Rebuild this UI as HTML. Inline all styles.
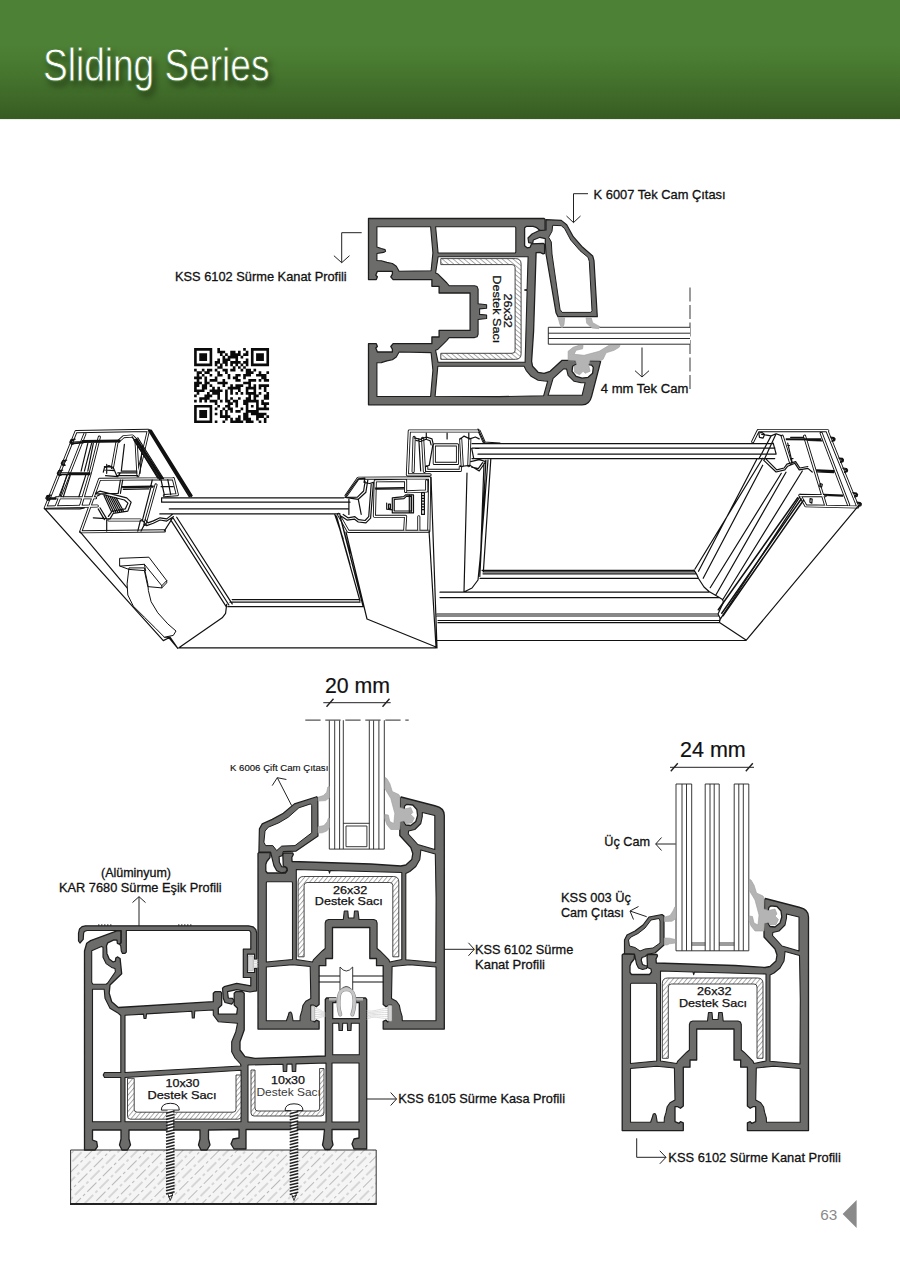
<!DOCTYPE html>
<html lang="tr"><head><meta charset="utf-8"><title>Sliding Series</title>
<style>
html,body{margin:0;padding:0;background:#fff;}
body{width:900px;height:1273px;position:relative;overflow:hidden;font-family:"Liberation Sans", sans-serif;}
.hdr{position:absolute;left:0;top:0;width:900px;height:119px;background:linear-gradient(180deg,#4d8135 0%,#4d8135 38%,#47772f 60%,#3f6a29 80%,#385c22 100%);box-shadow:0 0 1px rgba(60,80,40,.5);}
.hdr h1{position:absolute;left:43px;top:36.5px;margin:0;font-weight:400;font-size:46px;line-height:56px;color:#fff;letter-spacing:0;transform:scaleX(.805);transform-origin:0 0;white-space:nowrap;text-shadow:4px 5px 7px rgba(0,0,0,.5);-webkit-text-stroke:0.8px #4b7f34;}
svg{position:absolute;left:0;top:0;}
svg text{font-family:"Liberation Sans", sans-serif;}
</style></head><body>
<div class="hdr"><h1>Sliding Series</h1></div>
<svg width="900" height="1273" viewBox="0 0 900 1273">
<text x="593.6" y="199.3" font-size="12.9" text-anchor="start" fill="#111" stroke="#111" stroke-width="0.3" textLength="132" lengthAdjust="spacingAndGlyphs">K 6007 Tek Cam Çıtası</text>
<path d="M588 193.7H573.5V222.6M566.5 216L573.5 222.6L580.5 216" fill="none" stroke="#222" stroke-width="1"/>
<text x="175" y="280.7" font-size="12.9" text-anchor="start" fill="#111" stroke="#111" stroke-width="0.3" textLength="171.7" lengthAdjust="spacingAndGlyphs">KSS 6102 Sürme Kanat Profili</text>
<path d="M361.7 232.7H341.7V262.7M333.9 255.7L341.7 262.7L349.5 255.7" fill="none" stroke="#222" stroke-width="1"/>
<text x="600.8" y="392.5" font-size="12.9" text-anchor="start" fill="#111" stroke="#111" stroke-width="0.3" textLength="87.5" lengthAdjust="spacingAndGlyphs">4 mm Tek Cam</text>
<path d="M642 347.5V377M635 370.7L642 377L649 370.7" fill="none" stroke="#222" stroke-width="1"/>
<path d="M690 287.5V392" fill="none" stroke="#666" stroke-width="1.3" stroke-dasharray="14 3.5"/>
<text x="325" y="692.7" font-size="21.5" text-anchor="start" fill="#111" stroke="#111" stroke-width="0.2" textLength="65" lengthAdjust="spacingAndGlyphs">20 mm</text>
<path d="M323.3 702.7H390.7" fill="none" stroke="#222" stroke-width="1"/><path d="M326.5 706.7L333.5 698.7M382.5 706.7L389.5 698.7" fill="none" stroke="#222" stroke-width="1.4"/>
<text x="230" y="771" font-size="9.6" text-anchor="start" fill="#111" stroke="#111" stroke-width="0.15" textLength="98.3" lengthAdjust="spacingAndGlyphs">K 6006 Çift Cam Çıtası</text>
<path d="M291.7 805.7L277.3 777.7M272.2 785.6L277.3 777.7L286.4 779.5" fill="none" stroke="#222" stroke-width="1"/>
<text x="101" y="876.7" font-size="12.9" text-anchor="start" fill="#111" stroke="#111" stroke-width="0.3" textLength="70" lengthAdjust="spacingAndGlyphs">(Alüminyum)</text>
<text x="59" y="891.7" font-size="12.9" text-anchor="start" fill="#111" stroke="#111" stroke-width="0.3" textLength="162.7" lengthAdjust="spacingAndGlyphs">KAR 7680 Sürme Eşik Profili</text>
<path d="M139 927V896.7M132.5 902.5500000000001L139 896.7L145.5 902.5500000000001" fill="none" stroke="#222" stroke-width="1"/>
<text x="475" y="954.3" font-size="12.9" text-anchor="start" fill="#111" stroke="#111" stroke-width="0.3" textLength="98.3" lengthAdjust="spacingAndGlyphs">KSS 6102 Sürme</text>
<text x="475" y="969" font-size="12.9" text-anchor="start" fill="#111" stroke="#111" stroke-width="0.3" textLength="70" lengthAdjust="spacingAndGlyphs">Kanat Profili</text>
<path d="M444.3 949.3H474.3M468.45 942.8L474.3 949.3L468.45 955.8" fill="none" stroke="#222" stroke-width="1"/>
<text x="398.3" y="1103.3" font-size="12.9" text-anchor="start" fill="#111" stroke="#111" stroke-width="0.3" textLength="166.7" lengthAdjust="spacingAndGlyphs">KSS 6105 Sürme Kasa Profili</text>
<path d="M367 1099H396.5M390.65 1092.5L396.5 1099L390.65 1105.5" fill="none" stroke="#222" stroke-width="1"/>
<text x="680" y="757.3" font-size="21.5" text-anchor="start" fill="#111" stroke="#111" stroke-width="0.2" textLength="65.7" lengthAdjust="spacingAndGlyphs">24 mm</text>
<path d="M670 767.3H754" fill="none" stroke="#222" stroke-width="1"/><path d="M670.8 771.3L677.8 763.3M745.8 771.3L752.8 763.3" fill="none" stroke="#222" stroke-width="1.4"/>
<text x="604.3" y="846" font-size="12.9" text-anchor="start" fill="#111" stroke="#111" stroke-width="0.3" textLength="45.7" lengthAdjust="spacingAndGlyphs">Üç Cam</text>
<path d="M675.7 844H655.7M661.5500000000001 837.5L655.7 844L661.5500000000001 850.5" fill="none" stroke="#222" stroke-width="1"/>
<text x="561" y="901.7" font-size="12.9" text-anchor="start" fill="#111" stroke="#111" stroke-width="0.3" textLength="70" lengthAdjust="spacingAndGlyphs">KSS 003 Üç</text>
<text x="561" y="917.3" font-size="12.9" text-anchor="start" fill="#111" stroke="#111" stroke-width="0.3" textLength="63" lengthAdjust="spacingAndGlyphs">Cam Çıtası</text>
<path d="M646.7 916.7L630 911M633.5 919.5L630 911L638.5 906.5" fill="none" stroke="#222" stroke-width="1"/>
<text x="668.3" y="1162.3" font-size="12.9" text-anchor="start" fill="#111" stroke="#111" stroke-width="0.3" textLength="172.5" lengthAdjust="spacingAndGlyphs">KSS 6102 Sürme Kanat Profili</text>
<path d="M636.7 1138.3V1157.3H666M659.8 1150.8L666 1157.3L659.8 1163.8" fill="none" stroke="#222" stroke-width="1"/>
<text x="820.3" y="1219.5" font-size="15.3" text-anchor="start" fill="#8a8a8a">63</text>
<path d="M842.6 1214L856.6 1200V1228Z" fill="#8a8a8a"/>
<pattern id="bhatch" width="22" height="12.8" patternUnits="userSpaceOnUse" patternTransform="rotate(-45)"><path d="M0 2H13M16 2H19M11 8.4H22M0 8.4H2M5 8.4H8" stroke="#a8a8a8" stroke-width="0.8" fill="none"/></pattern><rect x="70.6" y="1150" width="305.6" height="54" fill="#f5f5f5"/><rect x="70.6" y="1150" width="305.6" height="54" fill="url(#bhatch)"/><path d="M70.6 1204V1150H376.2V1204" fill="none" stroke="#333" stroke-width="1"/><path d="M70 1204H376.8" stroke="#222" stroke-width="2"/>
<path d="M84.5 951.0 L86.7 943.3 L90.6 940.6 L117.0 930.9 L120.9 930.9 L120.9 942.6 L119.3 944.1 L117.4 943.3 L117.0 940.2 L113.9 939.8 L107.7 942.9 L106.5 945.7 L106.9 953.4 L109.2 958.9 L113.1 962.0 L115.4 961.2 L115.8 958.1 L117.4 956.9 L120.1 958.5 L121.7 973.7 L110.0 985.0 L109.2 993.3 L111.7 1001.7 L118.3 1007.5 L213.3 1001.7 L213.3 993.3 L215.0 991.7 L220.8 991.7 L221.7 993.3 L221.7 1005.0 L218.3 1008.3 L218.3 1014.2 L236.7 1014.2 L237.5 1008.3 L234.2 1005.0 L234.2 993.3 L235.8 991.7 L242.5 991.7 L244.2 993.3 L244.2 1030.0 L240.0 1041.7 L240.0 1050.0 L245.0 1056.7 L255.0 1058.3 L325.3 1056.0 L325.3 999.5 L326.5 998.0 L336.0 998.0 L336.0 1002.7 L332.7 1002.7 L332.7 1018.7 L359.3 1018.7 L359.3 1002.7 L356.0 1002.7 L356.0 998.0 L365.5 998.0 L366.7 999.5 L366.7 1149.0 L354.0 1149.0 L352.0 1144.0 L354.0 1139.0 L359.0 1138.0 L359.0 1129.5 L332.0 1129.5 L332.0 1140.0 L333.0 1145.0 L330.0 1149.5 L325.0 1149.5 L322.5 1145.0 L323.5 1140.0 L324.5 1129.5 L246.0 1129.5 L246.0 1149.0 L234.0 1149.0 L231.0 1144.0 L233.0 1139.0 L239.0 1138.0 L239.0 1129.5 L208.5 1130.0 L208.5 1139.0 L210.0 1145.0 L207.0 1150.0 L201.0 1150.0 L198.5 1145.0 L200.0 1139.0 L200.0 1130.0 L129.0 1130.0 L129.0 1139.0 L130.5 1145.0 L127.5 1150.0 L122.0 1150.0 L119.5 1145.0 L121.0 1139.0 L121.0 1130.0 L92.5 1130.0 L92.5 1140.0 L96.7 1141.7 L97.5 1146.7 L95.0 1150.0 L84.5 1150.0Z" fill="#6c6c6a" stroke="#1e1e1e" stroke-width="1.3" stroke-linejoin="round"/>
<path d="M91.7 950.7 L101.4 946.4 L103.0 947.2 L103.0 957.3 L106.1 963.6 L111.6 967.4 L115.0 968.6 L115.4 971.7 L107.7 983.0 L106.1 984.2 L92.9 984.2 L91.7 982.2Z M92.5 989.2 L104.2 989.2 L105.0 998.3 L110.0 1008.3 L118.3 1013.3 L120.8 1015.5 L120.8 1072.5 L104.5 1072.5 L103.2 1075.0 L104.5 1077.5 L120.8 1077.5 L120.8 1121.7 L92.5 1121.7Z M125.0 1015.2 L143.5 1014.1 L144.0 1018.5 L146.0 1018.5 L146.5 1013.9 L191.8 1011.2 L192.3 1018.0 L194.3 1018.0 L194.8 1011.0 L213.3 1010.0 L213.3 1015.0 L218.3 1021.7 L237.5 1023.3 L235.8 1031.7 L231.7 1041.7 L231.7 1051.7 L235.0 1058.0 L240.5 1064.0 L241.0 1066.0 L125.0 1072.5Z M125.0 1077.5 L241.0 1070.2 L241.0 1121.7 L125.0 1121.7Z M248.0 1065.0 L283.0 1064.2 L283.3 1071.5 L286.7 1071.5 L287.0 1064.1 L292.0 1064.0 L292.3 1071.5 L295.7 1071.5 L296.0 1063.9 L326.0 1063.0 L326.0 1122.0 L248.0 1122.0Z M332.7 1023.3 L338.7 1023.3 L339.0 1030.5 L342.4 1030.5 L342.7 1023.3 L347.3 1023.3 L347.6 1030.5 L351.0 1030.5 L351.3 1023.3 L359.3 1023.3 L359.3 1054.7 L332.7 1054.7Z M332.0 1063.0 L359.0 1063.0 L359.0 1122.0 L332.0 1122.0Z" fill="#fff" stroke="#1e1e1e" stroke-width="1.1" stroke-linejoin="round"/>
<path d="M127.5 1078.3 H134.2 V1109.2 Q134.2 1112.2 137.2 1112.2 H233 Q236 1112.2 236 1109.2 V1075 H241 V1116.2 Q241 1119.2 238 1119.2 H130.5 Q127.5 1119.2 127.5 1116.2Z" fill="url(#hatch)" stroke="#333" stroke-width="0.9"/>
<path d="M251 1070 H255 V1108 Q255 1111 258 1111 H316.6 Q319.6 1111 319.6 1108 V1068.5 H324 V1113 Q324 1116 321 1116 H254 Q251 1116 251 1113Z" fill="url(#hatch)" stroke="#333" stroke-width="0.9"/>
<text x="182.5" y="1086.7" font-size="10.3" text-anchor="middle" fill="#111" stroke="#111" stroke-width="0.25" textLength="34" lengthAdjust="spacingAndGlyphs">10x30</text>
<text x="182" y="1099.2" font-size="10.3" text-anchor="middle" fill="#111" stroke="#111" stroke-width="0.25" textLength="69" lengthAdjust="spacingAndGlyphs">Destek Sacı</text>
<text x="288" y="1084.4" font-size="10.3" text-anchor="middle" fill="#111" stroke="#111" stroke-width="0.25" textLength="34" lengthAdjust="spacingAndGlyphs">10x30</text>
<g clip-path="url(#clipd)"><text x="256.4" y="1096" font-size="10.3" text-anchor="start" fill="#3a3a3a" textLength="64.5" lengthAdjust="spacingAndGlyphs">Destek Sacı</text></g>
<clipPath id="clipd"><rect x="250" y="1080" width="70" height="20"/></clipPath>
<path d="M161.3 1110.1 Q161.3 1103.3 170.3 1103.3 Q179.3 1103.3 179.3 1110.1Z" fill="#fff" stroke="#1e1e1e" stroke-width="1"/><rect x="167.60000000000002" y="1110.1" width="5.4" height="84.40000000000009" fill="#fff"/><path d="M166.0 1113.3L174.60000000000002 1111.1M166.0 1116.4L174.60000000000002 1114.2M166.0 1119.5L174.60000000000002 1117.3M166.0 1122.6L174.60000000000002 1120.4M166.0 1125.7L174.60000000000002 1123.5M166.0 1128.8L174.60000000000002 1126.6M166.0 1131.9L174.60000000000002 1129.7M166.0 1135.0L174.60000000000002 1132.8M166.0 1138.1L174.60000000000002 1135.9M166.0 1141.2L174.60000000000002 1139.0M166.0 1144.3L174.60000000000002 1142.1M166.0 1147.4L174.60000000000002 1145.2M166.0 1150.5L174.60000000000002 1148.3M166.0 1153.6L174.60000000000002 1151.4M166.0 1156.7L174.60000000000002 1154.5M166.0 1159.8L174.60000000000002 1157.6M166.0 1162.9L174.60000000000002 1160.7M166.0 1166.0L174.60000000000002 1163.8M166.0 1169.1L174.60000000000002 1166.9M166.0 1172.2L174.60000000000002 1170.0M166.0 1175.3L174.60000000000002 1173.1M166.0 1178.4L174.60000000000002 1176.2M166.0 1181.5L174.60000000000002 1179.3M166.0 1184.6L174.60000000000002 1182.4M166.0 1187.7L174.60000000000002 1185.5M166.0 1190.8L174.60000000000002 1188.6M166.0 1193.9L174.60000000000002 1191.7" stroke="#222" stroke-width="1.5" fill="none"/><path d="M167.8 1193.5L170.3 1200.5L172.8 1193.5Z" fill="#fff" stroke="#222" stroke-width="0.9"/><path d="M168.10000000000002 1197.0L172.9 1195.3" stroke="#222" stroke-width="1.2"/>
<path d="M285 1110.6 Q285 1103.8 294 1103.8 Q303 1103.8 303 1110.6Z" fill="#fff" stroke="#1e1e1e" stroke-width="1"/><rect x="291.3" y="1110.6" width="5.4" height="83.90000000000009" fill="#fff"/><path d="M289.7 1113.8L298.3 1111.6M289.7 1116.9L298.3 1114.7M289.7 1120.0L298.3 1117.8M289.7 1123.1L298.3 1120.9M289.7 1126.2L298.3 1124.0M289.7 1129.3L298.3 1127.1M289.7 1132.4L298.3 1130.2M289.7 1135.5L298.3 1133.3M289.7 1138.6L298.3 1136.4M289.7 1141.7L298.3 1139.5M289.7 1144.8L298.3 1142.6M289.7 1147.9L298.3 1145.7M289.7 1151.0L298.3 1148.8M289.7 1154.1L298.3 1151.9M289.7 1157.2L298.3 1155.0M289.7 1160.3L298.3 1158.1M289.7 1163.4L298.3 1161.2M289.7 1166.5L298.3 1164.3M289.7 1169.6L298.3 1167.4M289.7 1172.7L298.3 1170.5M289.7 1175.8L298.3 1173.6M289.7 1178.9L298.3 1176.7M289.7 1182.0L298.3 1179.8M289.7 1185.1L298.3 1182.9M289.7 1188.2L298.3 1186.0M289.7 1191.3L298.3 1189.1M289.7 1194.4L298.3 1192.2" stroke="#222" stroke-width="1.5" fill="none"/><path d="M291.5 1193.5L294 1200.5L296.5 1193.5Z" fill="#fff" stroke="#222" stroke-width="0.9"/><path d="M291.8 1197.0L296.6 1195.3" stroke="#222" stroke-width="1.2"/>
<path d="M78.5 941.0 L78.5 933.2 L79.5 929.0 L82.0 926.6 L85.5 925.8 L248.5 925.8 L253.0 926.8 L255.8 929.5 L256.7 933.0 L256.7 959.2 L254.5 959.2 L254.5 954.2 L247.5 954.2 L247.5 972.5 L254.5 972.5 L254.5 968.3 L256.7 968.3 L256.7 990.8 L250.0 992.0 L236.7 989.7 L227.5 991.7 L228.3 998.0 L232.5 998.3 L234.2 1000.8 L231.7 1004.2 L225.0 1002.5 L223.3 998.3 L222.5 988.3 L224.2 986.7 L236.7 983.3 L250.8 985.8 L250.8 977.5 L243.3 977.5 L243.3 949.2 L250.8 949.2 L250.8 932.5 L249.5 930.5 L126.3 930.5 L126.3 952.0 L125.0 953.4 L122.5 953.4 L121.3 951.0 L120.8 946.0 L119.6 944.2 L121.3 942.8 L121.3 930.5 L87.0 930.5 L84.3 931.5 L83.6 933.2 L83.2 939.4 L80.0 943.0Z" fill="#6c6c6a" stroke="#1e1e1e" stroke-width="1.2" stroke-linejoin="round"/>
<path d="M98 925H112M178 925H192" stroke="#111" stroke-width="1" stroke-dasharray="1.5 1.5"/>
<defs><pattern id="hatch" width="3.5" height="3.5" patternUnits="userSpaceOnUse" patternTransform="rotate(-50)"><rect width="3.5" height="3.5" fill="#fff"/><line x1="0" y1="0.5" x2="3.5" y2="0.5" stroke="#8e8e8e" stroke-width="0.75"/></pattern><g id="kss6102"><path d="M622.2 955.0 L623.2 954.0 L634.5 954.0 L634.2 959.0 L631.0 963.0 L630.0 966.0 L630.0 972.5 L631.5 974.5 L649.5 974.5 L651.5 972.0 L651.0 969.0 L647.5 967.5 L647.0 956.0 L648.0 954.5 L657.0 954.5 L657.5 956.0 L656.0 959.0 L656.3 963.0 L735.0 965.5 L765.0 967.5 L770.0 966.5 L776.0 961.0 L777.0 955.0 L775.0 949.0 L764.0 937.0 L764.0 925.0 L765.0 923.0 L768.0 922.5 L768.5 924.0 L770.0 926.5 L775.0 927.0 L780.0 923.0 L781.8 917.0 L781.0 911.0 L777.0 906.5 L771.0 905.8 L768.8 907.5 L768.5 910.0 L767.5 911.5 L765.0 911.2 L764.5 909.5 L764.5 900.0 L765.3 898.5 L800 907.5 Q808.5 909.5 808.5 917 L808.5 1130.6 L747.4 1130.6 L747.4 1122.8 L750.2 1121.7 L751.7 1123.3 L755.7 1121.7 L755.7 1106.7 L752.9 1106.7 L750.2 1108.3 L747.4 1106.0 L747.4 1067.2 L740.7 1067.2 L740.7 1060.0 L734.0 1060.0 L734.0 1029.0 L696.7 1029.0 L696.7 1060.0 L690.0 1060.0 L690.0 1067.2 L683.3 1067.2 L683.3 1106.0 L680.5 1108.3 L677.8 1106.7 L675.0 1106.7 L675.0 1121.7 L679.0 1123.3 L680.5 1121.7 L683.3 1122.8 L683.3 1130.6 L622.2 1130.6Z" fill="#6c6c6a" stroke="#1e1e1e" stroke-width="1.3" stroke-linejoin="round"/><path d="M631.5 983.3 L655.7 983.3 Q656.7 983.3 656.7 984.3 L656.7 1061 L630.5 1063.5 L630.5 984.3 Q630.5 983.3 631.5 983.3Z M630.5 1068.5 L656.7 1066.2 L674.4 1068.0 L675.0 1100.0 L670.0 1102.8 L667.2 1106.7 L666.1 1112.2 L664.4 1117.8 L664.2 1122.2 L657.2 1122.2 L656.1 1115.5 L655.0 1113.5 L653.3 1114.0 L652.2 1117.8 L650.6 1122.2 L630.5 1122.2Z M800.2 1068.5 L774.0 1066.2 L756.3 1068.0 L755.7 1100.0 L760.7 1102.8 L763.5 1106.7 L764.6 1112.2 L766.3 1117.8 L766.5 1122.2 L800.2 1122.2Z M660.5 971.0 L693.0 972.0 L693.7 974.6 L694.5 972.0 L766.0 974.0 L766.0 1061.0 L754.0 1063.5 L752.9 1061.1 L748.5 1056.7 L744.0 1052.2 L741.3 1050.0 L741.3 1024.5 L740.4 1022.0 L737.9 1021.0 L723.2 1021.0 L722.2 1012.5 L718.7 1012.5 L718.1 1019.5 L712.6 1019.5 L712.0 1012.5 L708.5 1012.5 L707.5 1021.0 L692.8 1021.0 L690.3 1022.0 L689.4 1024.5 L689.4 1050.0 L686.7 1052.2 L682.2 1056.7 L677.8 1061.1 L676.7 1063.5 L660.5 1061.0Z M785.0 951.5 L799.5 955.5 L800.3 1000.0 L800.0 1064.0 L770.0 1061.3 L770.0 975.0 L774.0 973.0 L780.0 968.0 L784.0 961.0 L784.7 955.0Z M786.5 914.0 L799.0 917.0 L799.0 951.0 L782.0 946.0 L772.5 935.5 L772.8 932.5 L779.0 931.0 L785.0 925.0 L786.5 918.0Z" fill="#fff" stroke="#1e1e1e" stroke-width="1.1" stroke-linejoin="round"/><path d="M662.3 1058.3 V983.5 Q662.3 978 667.8 978 H757.5 Q763 978 763 983.5 V1058.3 H757 V987 Q757 984 754 984 H671.3 Q668.3 984 668.3 987 V1058.3Z" fill="url(#hatch)" stroke="#333" stroke-width="0.9" stroke-linejoin="round"/></g></defs>
<g><use href="#kss6102"/><text x="714.3" y="995" font-size="10.3" text-anchor="middle" fill="#111" stroke="#111" stroke-width="0.25" textLength="34.4" lengthAdjust="spacingAndGlyphs">26x32</text><text x="713" y="1006.5" font-size="10.3" text-anchor="middle" fill="#111" stroke="#111" stroke-width="0.25" textLength="68" lengthAdjust="spacingAndGlyphs">Destek Sacı</text></g>
<g transform="translate(-364.2,-101.5)"><use href="#kss6102"/><text x="714.3" y="995" font-size="10.3" text-anchor="middle" fill="#111" stroke="#111" stroke-width="0.25" textLength="34.4" lengthAdjust="spacingAndGlyphs">26x32</text><text x="713" y="1006.5" font-size="10.3" text-anchor="middle" fill="#111" stroke="#111" stroke-width="0.25" textLength="68" lengthAdjust="spacingAndGlyphs">Destek Sacı</text></g>
<g transform="translate(1499.1,-403.7) rotate(90)"><use href="#kss6102"/><text x="714.3" y="995" font-size="10.3" text-anchor="middle" fill="#111" stroke="#111" stroke-width="0.25" textLength="34.4" lengthAdjust="spacingAndGlyphs">26x32</text><text x="713" y="1006.5" font-size="10.3" text-anchor="middle" fill="#111" stroke="#111" stroke-width="0.25" textLength="68" lengthAdjust="spacingAndGlyphs">Destek Sacı</text></g>
<rect x="676" y="784" width="72.8" height="166.8" fill="#fff"/><path d="M676 784V950.8M682 784V950.8M686.5 784V950.8M691.7 784V950.8M676 784H691.7M705.2 784V950.8M710 784V950.8M714.2 784V950.8M719.2 784V950.8M705.2 784H719.2M734.2 784V950.8M738.8 784V950.8M743.3 784V950.8M748.8 784V950.8M734.2 784H748.8M676 950.8H748.8M691.7 943H705.2M691.7 945H705.2M719.2 943H734.2M719.2 945H734.2" fill="none" stroke="#222" stroke-width="0.9"/><path d="M624.5 953.5 L624.5 940.0 L627.0 935.0 L635.0 931.0 L643.0 925.0 L649.0 917.0 L662.0 914.5 L664.0 916.0 L664.0 945.0 L655.0 953.0 L648.0 954.0 L645.0 956.5 L642.0 957.5 L641.2 960.0 L642.5 964.5 L645.0 965.5 L647.5 966.0 L646.5 968.5 L642.5 969.5 L638.5 968.0 L636.5 964.0 L634.5 954.0Z" fill="#6c6c6a" stroke="#1e1e1e" stroke-width="1.2" stroke-linejoin="round"/><path d="M629.5 946.0 L628.5 940.0 L631.0 937.0 L638.0 933.5 L645.0 928.0 L651.0 920.0 L659.0 918.5 L660.0 921.0 L660.0 943.0 L653.0 948.0 L645.0 949.0 L640.0 951.0 L635.0 947.5Z" fill="#fff" stroke="#1e1e1e" stroke-width="1" stroke-linejoin="round"/><path d="M664.2 917.2 L670.0 915.5 L673.0 911.0 L674.8 907.0 L676.0 907.5 L676.0 918.5 L672.0 921.2 L664.2 921.5Z M664.2 938.0 L669.5 938.2 L675.5 939.5 L675.5 943.0 L669.5 943.8 L667.0 945.0 L664.2 944.8Z" fill="#b4b4b4" stroke="#9c9c9c" stroke-width="0.6" stroke-linejoin="round"/><path d="M749.2 879.0 L751.0 880.0 L754.0 885.0 L756.5 893.0 L763.0 896.0 L764.2 898.0 L764.0 909.0 L768.5 910.5 L775.0 909.0 L777.0 914.0 L775.0 916.0 L778.5 919.5 L776.0 924.5 L770.0 925.0 L768.5 922.5 L764.5 923.5 L764.0 931.0 L755.0 931.0 L751.0 926.0 L749.0 920.0 L749.0 916.0 L752.5 916.5 L754.0 923.0 L758.0 925.0 L759.0 915.0 L755.0 900.0 L749.0 890.0Z" fill="#b4b4b4" stroke="#9c9c9c" stroke-width="0.6" stroke-linejoin="round"/>
<rect x="329.3" y="720.2" width="55" height="128.89999999999998" fill="#fff"/><path d="M329.3 720.2V849.1M334.7 720.2V849.1M339.6 720.2V849.1M343.3 720.2V849.1M369.3 720.2V849.1M373.6 720.2V849.1M378.9 720.2V849.1M384.3 720.2V849.1M329.3 849.1H384.3M343.3 823.3H369.3M346 826H366.9V846.7H346Z" fill="none" stroke="#222" stroke-width="0.9"/><path d="M305.3 720.2H408.7" fill="none" stroke="#555" stroke-width="1.2" stroke-dasharray="15.3 4.7"/><path d="M258.9 851.9 L259.4 828.9 L262.2 823.9 L272.2 819.4 L283.3 813.3 L294.4 803.9 L316.7 796.7 L317.8 798.3 L318.0 836.1 L296.1 851.1 L283.3 851.7 L282.2 855.6 L279.1 856.7 L279.4 862.2 L281.7 866.7 L285.6 867.2 L287.2 869.4 L285.6 872.2 L281.1 872.8 L276.7 870.6 L273.9 865.6 L270.6 852.2Z" fill="#6c6c6a" stroke="#1e1e1e" stroke-width="1.2" stroke-linejoin="round"/><path d="M265.6 845.6 L263.9 842.2 L265.0 831.1 L268.3 827.2 L278.9 822.8 L288.3 817.2 L298.9 807.8 L310.6 803.9 L311.7 805.6 L311.7 832.8 L295.0 845.6 L281.7 846.1 L276.7 850.6 L272.8 845.6Z" fill="#fff" stroke="#1e1e1e" stroke-width="1" stroke-linejoin="round"/><path d="M318.0 797.2 L323.3 795.6 L326.7 792.2 L327.8 787.0 L329.4 786.5 L329.4 797.8 L325.6 800.6 L318.0 801.1Z M318.0 826.7 L323.9 825.6 L327.2 821.7 L328.3 818.3 L329.4 818.3 L329.4 827.8 L326.7 831.1 L322.2 832.8 L318.0 833.1Z" fill="#b4b4b4" stroke="#9c9c9c" stroke-width="0.6" stroke-linejoin="round"/><g transform="translate(-364.2,-101.5)"><path d="M749.2 879.0 L751.0 880.0 L754.0 885.0 L756.5 893.0 L763.0 896.0 L764.2 898.0 L764.0 909.0 L768.5 910.5 L775.0 909.0 L777.0 914.0 L775.0 916.0 L778.5 919.5 L776.0 924.5 L770.0 925.0 L768.5 922.5 L764.5 923.5 L764.0 931.0 L755.0 931.0 L751.0 926.0 L749.0 920.0 L749.0 916.0 L752.5 916.5 L754.0 923.0 L758.0 925.0 L759.0 915.0 L755.0 900.0 L749.0 890.0Z" fill="#b4b4b4" stroke="#9c9c9c" stroke-width="0.6" stroke-linejoin="round"/></g><path d="M253.3 960H258.3M253.3 961.7H258.3M253.3 963.4H258.3M253.3 965.1H258.3M253.3 966.8H258.3" stroke="#c8c8c8" stroke-width="0.7"/><rect x="248.3" y="955.8" width="5" height="15" rx="1" fill="#d4d4d4" stroke="#999" stroke-width="0.6"/><path d="M314.7 1008.5C320 1008.5 321 1011.5 325.3 1012.5M388 1008.5C378 1008.5 374 1012.5 366.7 1010.5M314.7 1010.5C320 1010.5 321 1012.5 325.3 1013.3M388 1010.5C378 1010.5 374 1013.0 366.7 1012.3M314.7 1012.5C320 1012.5 321 1013.5 325.3 1014.1M388 1012.5C378 1012.5 374 1013.5 366.7 1014.1M314.7 1014.5C320 1014.5 321 1014.5 325.3 1014.9M388 1014.5C378 1014.5 374 1014.0 366.7 1015.9M314.7 1016.5C320 1016.5 321 1015.5 325.3 1015.7M388 1016.5C378 1016.5 374 1014.5 366.7 1017.7M314.7 1018.5C320 1018.5 321 1016.5 325.3 1016.5M388 1018.5C378 1018.5 374 1015.0 366.7 1019.5" stroke="#cfcfcf" stroke-width="0.7" fill="none"/><rect x="311.3" y="1006" width="3.4" height="14.7" rx="1" fill="#d4d4d4" stroke="#999" stroke-width="0.6"/><rect x="388" y="1005.3" width="4" height="16" rx="1" fill="#d4d4d4" stroke="#999" stroke-width="0.6"/><path d="M318.9 976H383.2M318.9 982H383.2" stroke="#111" stroke-width="1.1" fill="none"/><path d="M340 967 Q346.3 975 352.7 967 V990.5 Q346.3 982.5 340 990.5Z" fill="#fff" stroke="#222" stroke-width="0.9"/><path d="M329 999.3H339M353.5 999.3H363" stroke="#b5b5b5" stroke-width="2.4" fill="none"/><path d="M340.3 1014.5 C338 1008 338.5 1000 339 996 C340 987 352.5 987 354 996 C354.8 1001 354.5 1008 352.3 1014.5" stroke="#8f8f8f" stroke-width="4" fill="none" stroke-linecap="round"/><path d="M340.3 1014.5 C338 1008 338.5 1000 339 996 C340 987 352.5 987 354 996 C354.8 1001 354.5 1008 352.3 1014.5" stroke="#c6c6c6" stroke-width="2.8" fill="none" stroke-linecap="round"/>
<rect x="548.3" y="327.3" width="141.7" height="17" fill="#fff"/><path d="M690 327.3H548.3V344.2H690M548.3 333.2H690M548.3 338.5H690" fill="none" stroke="#222" stroke-width="0.95"/><path d="M546.0 219.6 L561.3 220.4 L566.7 224.7 L573.3 236.7 L582.7 247.3 L592.7 256.0 L594.0 260.7 L597.3 316.7 L558.0 316.7 L556.0 312.7 L546.0 254.0 L545.3 243.3 L545.3 238.7 L540.0 237.3 L533.3 240.0 L532.7 243.3 L528.7 242.7 L528.0 238.0 L532.0 234.0 L538.7 230.7 L546.0 230.0Z" fill="#6c6c6a" stroke="#1e1e1e" stroke-width="1.2" stroke-linejoin="round"/><path d="M552.7 225.3 L561.3 225.7 L564.7 228.7 L570.7 240.0 L580.0 250.7 L588.0 257.3 L589.3 261.3 L592.0 310.7 L590.7 312.4 L562.0 312.4 L560.0 309.3 L552.0 254.0 L551.3 242.0 L548.7 237.3 L552.0 231.3Z" fill="#fff" stroke="#1e1e1e" stroke-width="1" stroke-linejoin="round"/><path d="M558.0 317.3 L564.7 317.7 L564.0 324.7 L562.0 328.0 L560.0 324.7Z M586.0 317.7 L591.3 318.0 L592.7 322.7 L600.0 326.7 L598.7 328.7 L592.0 328.0 L586.7 323.3Z" fill="#b4b4b4" stroke="#9c9c9c" stroke-width="0.6" stroke-linejoin="round"/><g transform="translate(1499.1,-403.7) rotate(90)"><path d="M749.2 879.0 L751.0 880.0 L754.0 885.0 L756.5 893.0 L763.0 896.0 L764.2 898.0 L764.0 909.0 L768.5 910.5 L775.0 909.0 L777.0 914.0 L775.0 916.0 L778.5 919.5 L776.0 924.5 L770.0 925.0 L768.5 922.5 L764.5 923.5 L764.0 931.0 L755.0 931.0 L751.0 926.0 L749.0 920.0 L749.0 916.0 L752.5 916.5 L754.0 923.0 L758.0 925.0 L759.0 915.0 L755.0 900.0 L749.0 890.0Z" fill="#b4b4b4" stroke="#9c9c9c" stroke-width="0.6" stroke-linejoin="round"/></g>
<g fill="none" stroke="#111" stroke-linecap="round" stroke-linejoin="round"><path d="M45.3 508.0L76.0 431.6L148.4 430.4L137.8 475.6M84.9 433.8L56.0 506.7M45.8 507.1L97.3 506.0M56.0 497.8L95.6 497.8M99.3 437.1L90.2 473.3L80.4 506.7M112.4 467.8L116.9 442.7L123.6 436.7L132.4 436.0L136.0 439.6L138.0 475.6M99.6 479.3L173.3 478.7M99.6 479.3L80.7 531.8M80.7 531.8L164.4 530.9M156.0 484.9L144.9 524.4M173.3 478.7L177.3 494.7L164.4 495.6M108.9 520.0L140.4 520.0M346.1 495.6L358.3 478.2L429.7 477.8L428.8 531.1L348.3 531.4L338.5 514.4M375.3 480.8L374.4 516.3L405.6 516.3L404.8 529.9M375.3 480.8L405.6 480.4L405.6 491.4M418.8 516.7L418.8 529.9M407.4 491.8L426.7 491.0L426.7 480.8M409.3 431.0L479.2 431.0L483.9 441.7M409.3 431.0L407.4 474.8L430.1 474.8M434.3 444.9L457.5 444.9L457.5 463.4L434.3 463.4L434.3 444.9M414.1 437.4L413.1 471.4M422.6 438.3L424.4 471.4M460.7 439.3L462.2 465.7M469.8 439.3L468.8 465.7M426.7 466.8L426.7 470.4L460.3 470.4L460.3 466.7M758.5 430.7L827.8 430.7M827.2 431.3L857.3 505.5M821.2 433.3L848.6 504.9M804.6 436.2L825.5 504.9M782.2 436.2L790.8 463.3M758.1 430.7L752.7 441.7M799.9 495.4L805.7 505.5M805.7 505.8L857.7 507.0M799.9 495.4L825.2 495.7" stroke-width="3.1"/><path d="M45.3 508.0L76.0 431.6L148.4 430.4L137.8 475.6M84.9 433.8L56.0 506.7M45.8 507.1L97.3 506.0M56.0 497.8L95.6 497.8M99.3 437.1L90.2 473.3L80.4 506.7M112.4 467.8L116.9 442.7L123.6 436.7L132.4 436.0L136.0 439.6L138.0 475.6M99.6 479.3L173.3 478.7M99.6 479.3L80.7 531.8M80.7 531.8L164.4 530.9M156.0 484.9L144.9 524.4M173.3 478.7L177.3 494.7L164.4 495.6M108.9 520.0L140.4 520.0M346.1 495.6L358.3 478.2L429.7 477.8L428.8 531.1L348.3 531.4L338.5 514.4M375.3 480.8L374.4 516.3L405.6 516.3L404.8 529.9M375.3 480.8L405.6 480.4L405.6 491.4M418.8 516.7L418.8 529.9M407.4 491.8L426.7 491.0L426.7 480.8M409.3 431.0L479.2 431.0L483.9 441.7M409.3 431.0L407.4 474.8L430.1 474.8M434.3 444.9L457.5 444.9L457.5 463.4L434.3 463.4L434.3 444.9M414.1 437.4L413.1 471.4M422.6 438.3L424.4 471.4M460.7 439.3L462.2 465.7M469.8 439.3L468.8 465.7M426.7 466.8L426.7 470.4L460.3 470.4L460.3 466.7M758.5 430.7L827.8 430.7M827.2 431.3L857.3 505.5M821.2 433.3L848.6 504.9M804.6 436.2L825.5 504.9M782.2 436.2L790.8 463.3M758.1 430.7L752.7 441.7M799.9 495.4L805.7 505.5M805.7 505.8L857.7 507.0M799.9 495.4L825.2 495.7" stroke="#fff" stroke-width="1.3"/><path d="M82.2 440.7L120.0 440.0M82.2 441.6L120.0 440.9M82.2 442.4L119.6 441.8M68.9 472.9L90.0 472.9M68.9 473.8L90.0 473.8M68.9 474.7L89.8 474.7M122.2 486.7L153.3 486.2M122.7 487.6L152.9 487.1M123.3 489.3L148.9 488.9M106.7 518.9L106.7 531.1M132.2 436.7L157.8 478.2M137.8 437.8L163.6 478.7M161.1 480.0L164.4 495.1M167.8 479.6L170.7 494.7M93.3 517.8L110.0 518.9M84.4 507.8L80.0 508.9M44.9 508.9L80.4 508.9M104.4 466.7L113.3 467.1M104.4 470.0L114.4 470.7M106.7 464.4L106.7 473.3M113.3 467.8L116.7 475.6M116.7 475.6L137.8 475.6M117.8 472.9L136.9 472.9M164.4 530.9L173.3 516.7M87.8 443.3L81.1 471.1M91.6 443.3L84.4 471.1M66.7 475.6L60.0 496.7M70.2 475.6L63.3 496.7M85.6 475.6L78.9 496.7M93.3 443.3L87.8 471.1M144.4 524.4L141.1 531.1M151.1 486.7L142.2 521.1M95.6 493.3L100.0 491.1L126.7 497.8L131.1 502.2L127.8 511.1L113.3 513.3L110.0 518.9M97.3 496.0L101.1 494.0L124.4 500.0L128.0 503.1L125.3 508.9L112.2 511.1L108.4 516.4M143.3 521.1L146.7 525.6L153.3 523.3L160.0 520.0L166.7 521.1L173.3 516.7M145.3 519.6L148.0 522.9L153.3 520.9L160.0 517.8L166.7 518.9L172.4 514.4M104.0 495.6L111.6 512.0M106.0 495.9L113.6 511.9M108.0 496.2L115.6 511.8M110.0 496.6L117.6 511.7M112.0 496.9L119.6 511.6M114.0 497.2L121.6 511.4M116.0 497.6L123.6 511.3M73.3 442.2L83.6 441.6M73.3 443.6L83.1 442.9M61.3 472.9L69.3 472.9M60.9 474.7L68.9 474.7M48.9 497.8L56.0 497.8M48.4 499.1L55.6 499.1M120.4 480.0L118.2 493.3M122.7 480.0L120.4 493.3M118.2 493.3L95.6 493.8M152.2 480.0L150.7 486.7M140.4 520.4L137.8 531.1M173.3 486.7L161.1 486.7M103.3 472.2L104.4 467.8M104.4 467.8L108.9 465.6M108.9 465.6L113.3 467.8M105.6 475.6L117.8 476.7M117.8 476.7L120.0 473.3M100.0 507.8L106.7 518.9M98.2 508.9L104.4 519.6M142.2 446.7L140.0 473.3M124.4 444.4L121.3 471.1M121.3 471.1L136.9 471.1M75.1 439.1L71.1 439.6L69.8 442.2L71.6 444.4L73.8 444.0M73.8 440.4L71.6 440.9L71.3 442.7L72.9 443.1M66.7 460.2L62.7 460.7L61.3 463.3L63.1 465.6L65.3 465.1M65.3 461.6L63.1 462.0L62.9 463.8L64.4 464.2M62.7 470.2L58.7 470.7L57.3 473.3L59.1 475.6L61.3 475.1M61.3 471.6L59.1 472.0L58.9 473.8L60.4 474.2M51.1 495.1L47.1 495.6L45.8 498.2L47.6 500.4L49.8 500.0M49.8 496.4L47.6 496.9L47.3 498.7L48.9 499.1M44.4 508.3L163.3 640.6M80.0 531.7L177.8 648.3M163.3 640.6L170.0 637.2M170.0 637.2L177.8 648.3M164.4 637.2L170.0 637.2M173.3 518.3L228.9 605.0M176.7 517.2L232.2 603.9M170.7 519.9L226.2 606.6M161.6 497.8L320.0 497.8M161.6 502.2L320.0 502.2M169.3 508.9L320.0 508.9M159.8 513.9L320.0 513.9M161.6 497.8L161.6 502.2M232.2 599.6L320.0 599.6M230.0 602.2L320.0 602.2M227.8 606.7L320.0 606.7M178.9 647.8L320.0 647.8M336.7 516.7L350.0 564.4M340.0 515.6L350.0 553.3M226.7 604.4L225.6 613.3L222.2 617.8L178.9 647.8M346.0 532.0L367.0 619.0M429.0 530.0L436.0 647.0M367.0 619.0L436.0 647.0M336.0 515.6L360.0 601.0M340.0 516.0L363.0 606.0M320.0 497.8L344.0 497.8M320.0 502.2L350.0 502.2M320.0 508.9L348.0 508.9M320.0 513.9L340.0 513.9M320.0 599.6L359.0 599.6M320.0 602.2L360.0 602.2M320.0 606.7L363.0 606.7M320.0 647.8L436.0 647.8M431.0 477.0L437.0 648.0M467.0 473.0L464.0 592.0M488.0 460.0L480.0 560.0M484.0 463.0L480.0 572.0M478.0 429.0L484.0 442.0M484.0 442.0L500.0 443.0M464.0 592.0L472.0 588.0L478.0 580.0L480.0 560.0M375.3 488.0L403.7 487.6M375.7 489.1L403.7 488.8M426.3 433.2L426.3 438.9M447.1 433.2L447.1 438.9M468.8 433.2L468.8 438.9M418.8 438.9L420.7 471.0M432.9 444.9L429.2 465.3M429.2 465.3L426.3 466.5M460.3 466.5L469.8 465.3M421.6 492.7L424.4 492.7M424.4 492.7L424.4 514.4M424.4 514.4L421.6 514.4M421.6 492.7L421.6 514.4M422.2 495.6L424.1 495.6M422.2 498.4L424.1 498.4M422.2 501.2L424.1 501.2M422.2 504.1L424.1 504.1M422.2 506.9L424.1 506.9M422.2 509.7L424.1 509.7M409.3 494.6L409.3 512.6M411.2 494.6L411.2 512.6M348.9 499.3L348.9 514.4M358.3 499.3L361.2 514.4M471.7 448.3L473.6 457.8M475.4 448.3L479.2 448.3M386.7 503.1L386.7 509.2L392.3 509.9L392.3 497.8L403.7 496.7L405.6 494.8L413.5 494.8L413.5 512.9L392.3 512.9L392.3 509.9M388.6 504.1L390.4 504.1L390.4 508.4L388.6 508.4ZM394.2 499.3L404.0 498.6L406.3 496.3L411.6 496.3L411.6 511.0L394.2 511.0ZM346.1 495.6L352.7 486.1L358.3 478.9L364.9 478.2L364.0 482.3L369.7 483.5L373.4 482.3M345.1 497.4L358.3 499.3L365.9 492.2L367.8 480.1M347.9 497.4L357.4 497.1L363.6 491.0L365.1 481.4M341.3 516.3L347.0 520.1L354.6 519.2L358.3 522.0L365.9 522.9L370.6 518.2L373.4 482.7M343.2 514.4L347.9 517.8L354.9 516.7L358.7 519.7L365.1 520.5L368.7 516.7L371.2 484.2M414.1 437.9L420.7 439.3L426.3 437.0L432.0 438.9L433.3 444.6M415.9 440.4L420.7 441.5L426.0 439.3L430.1 440.8L431.1 444.9M460.3 438.9L464.1 436.1L469.8 438.9L475.4 437.0L479.2 438.9M469.8 465.3L479.2 471.0L485.8 461.6L479.2 459.7L470.7 461.6M471.7 467.2L478.3 468.7L482.6 462.7M334.7 514.4L343.2 539.0M472.0 443.7H773.0M472.0 448.1H775.0M478.0 454.2H776.0M472.0 458.6H774.7M482.0 570.3H694.0M483.0 571.8H695.0M483.0 573.8H696.3M480.0 578.3H698.3M440.0 592.2H709.0M440.0 597.6H718.8M437.0 614.0H718.0M437.0 616.0H718.5M438.0 620.5H720.0M438.0 622.7H719.6M437.0 640.5H746.0M490.8 459.1L483.4 571.1M485.9 460.3L479.8 576.5M858.3 506.0L746.3 640.2M800.0 496.7L719.5 620.3M762.7 458.2L695.0 569.0M756.8 459.3L698.5 571.3M781.3 473.3L710.2 587.7M786.0 472.2L716.0 594.7M802.3 471.0L723.0 599.3M703.2 578.3L762.7 465.2M694.0 570.0L696.5 574.0L698.5 578.5L704.0 587.0L709.0 591.5L718.5 597.0L722.5 599.5L723.5 602.0L718.0 614.0L720.0 618.0L719.5 622.5L746.0 640.0M786.2 438.8L820.9 438.8M786.2 439.6L820.9 439.8M807.9 440.5L822.3 440.8M816.6 469.8L833.9 470.6M816.6 470.8L833.9 471.6M817.3 472.0L833.9 472.6M823.8 494.4L842.6 495.1M824.5 495.4L842.8 496.1M773.2 443.1L776.1 453.9M787.7 443.1L792.0 461.9M790.6 437.3L803.6 437.3M771.1 435.9L758.8 459.0M776.1 433.7L763.8 460.4M761.7 434.4L771.1 435.9L776.1 433.7L781.9 435.9M763.8 460.4L776.1 472.0L784.8 469.8L787.7 466.2L794.9 463.3L799.2 469.8L807.9 468.4L812.2 472.0M765.3 458.3L776.8 469.8L784.1 468.0L786.9 464.1L795.6 461.6L799.9 468.0L807.9 466.5M830.3 437.0L834.0 437.5L835.1 438.9L834.6 440.7L832.0 441.4M831.4 438.1L833.5 438.3L833.9 439.5L832.3 440.2M838.8 458.0L842.5 458.4L843.5 459.9L843.1 461.6L840.5 462.3M839.9 459.0L841.9 459.3L842.4 460.4L840.8 461.2M842.9 468.1L846.6 468.5L847.6 470.0L847.2 471.7L844.6 472.4M844.0 469.1L846.0 469.4L846.5 470.6L844.9 471.3M852.8 492.7L856.5 493.1L857.6 494.5L857.1 496.3L854.5 497.0M853.9 493.7L856.0 494.0L856.4 495.1L854.8 495.8M856.6 502.0L860.3 502.5L861.4 503.9L860.9 505.7L858.3 506.4M857.7 503.1L859.8 503.3L860.2 504.5L858.6 505.2M758.8 433.0L761.7 432.3L764.6 434.4L763.1 438.1L759.5 437.3ZM787.7 445.3L789.4 445.7M791.3 458.3L793.0 458.7M820.2 483.6L822.3 484.3L821.6 487.2L819.7 486.4ZM810.1 498.7L812.2 499.2L811.8 503.1L809.9 502.3Z" stroke-width="1.2"/><path d="M150.0 430.0L191.1 496.7M148.7 430.7L189.3 496.7M151.3 430.4L192.0 495.6M135.6 439.6L161.1 478.9M136.9 439.1L162.4 478.4M134.2 440.4L159.8 479.6M797.7 497.8L718.3 609.8M801.2 499.0L721.8 613.3M803.5 500.2L723.0 615.7" stroke-width="1.5"/><path d="M128.9 568.3L127.1 583.9L127.8 595.0L133.3 606.1L144.4 617.2L155.6 628.3L164.4 637.2L173.3 635.4L176.0 631.0L167.8 623.9L157.8 612.8L151.1 601.7L148.4 590.6L147.8 583.9L144.4 568.3ZM120.0 558.3L148.9 557.2L166.7 580.6L166.7 582.8L161.8 587.9L147.8 586.6L144.4 570.6L128.9 569.4L120.0 566.1ZM120.0 566.1L144.4 564.3L161.8 585.7L166.7 580.6M144.4 564.3L145.6 570.6M161.8 585.7L161.8 587.9" fill="#fff" stroke-width="1"/></g>
<path d="M194.10 348.10h18.14v2.64h-18.14zM217.34 348.10h2.64v2.64h-2.64zM243.17 348.10h2.64v2.64h-2.64zM250.92 348.10h18.14v2.64h-18.14zM194.10 350.68h2.64v2.64h-2.64zM209.60 350.68h2.64v2.64h-2.64zM217.34 350.68h7.81v2.64h-7.81zM230.26 350.68h5.23v2.64h-5.23zM238.01 350.68h2.64v2.64h-2.64zM245.76 350.68h2.64v2.64h-2.64zM250.92 350.68h2.64v2.64h-2.64zM266.42 350.68h2.64v2.64h-2.64zM194.10 353.27h2.64v2.64h-2.64zM199.27 353.27h7.81v2.64h-7.81zM209.60 353.27h2.64v2.64h-2.64zM219.93 353.27h2.64v2.64h-2.64zM225.09 353.27h2.64v2.64h-2.64zM230.26 353.27h10.39v2.64h-10.39zM243.17 353.27h5.23v2.64h-5.23zM250.92 353.27h2.64v2.64h-2.64zM256.09 353.27h7.81v2.64h-7.81zM266.42 353.27h2.64v2.64h-2.64zM194.10 355.85h2.64v2.64h-2.64zM199.27 355.85h7.81v2.64h-7.81zM209.60 355.85h2.64v2.64h-2.64zM222.51 355.85h2.64v2.64h-2.64zM227.68 355.85h10.39v2.64h-10.39zM240.59 355.85h2.64v2.64h-2.64zM250.92 355.85h2.64v2.64h-2.64zM256.09 355.85h7.81v2.64h-7.81zM266.42 355.85h2.64v2.64h-2.64zM194.10 358.43h2.64v2.64h-2.64zM199.27 358.43h7.81v2.64h-7.81zM209.60 358.43h2.64v2.64h-2.64zM217.34 358.43h2.64v2.64h-2.64zM222.51 358.43h7.81v2.64h-7.81zM235.42 358.43h2.64v2.64h-2.64zM245.76 358.43h2.64v2.64h-2.64zM250.92 358.43h2.64v2.64h-2.64zM256.09 358.43h7.81v2.64h-7.81zM266.42 358.43h2.64v2.64h-2.64zM194.10 361.01h2.64v2.64h-2.64zM209.60 361.01h2.64v2.64h-2.64zM214.76 361.01h5.23v2.64h-5.23zM222.51 361.01h5.23v2.64h-5.23zM230.26 361.01h10.39v2.64h-10.39zM243.17 361.01h5.23v2.64h-5.23zM250.92 361.01h2.64v2.64h-2.64zM266.42 361.01h2.64v2.64h-2.64zM194.10 363.60h18.14v2.64h-18.14zM214.76 363.60h2.64v2.64h-2.64zM219.93 363.60h2.64v2.64h-2.64zM225.09 363.60h2.64v2.64h-2.64zM230.26 363.60h2.64v2.64h-2.64zM235.42 363.60h2.64v2.64h-2.64zM240.59 363.60h2.64v2.64h-2.64zM245.76 363.60h2.64v2.64h-2.64zM250.92 363.60h18.14v2.64h-18.14zM217.34 366.18h5.23v2.64h-5.23zM232.84 366.18h2.64v2.64h-2.64zM238.01 366.18h2.64v2.64h-2.64zM243.17 366.18h2.64v2.64h-2.64zM194.10 368.76h2.64v2.64h-2.64zM201.85 368.76h2.64v2.64h-2.64zM207.01 368.76h5.23v2.64h-5.23zM214.76 368.76h2.64v2.64h-2.64zM222.51 368.76h5.23v2.64h-5.23zM230.26 368.76h5.23v2.64h-5.23zM240.59 368.76h2.64v2.64h-2.64zM245.76 368.76h5.23v2.64h-5.23zM253.50 368.76h2.64v2.64h-2.64zM196.68 371.34h5.23v2.64h-5.23zM204.43 371.34h5.23v2.64h-5.23zM217.34 371.34h2.64v2.64h-2.64zM225.09 371.34h2.64v2.64h-2.64zM245.76 371.34h7.81v2.64h-7.81zM258.67 371.34h2.64v2.64h-2.64zM266.42 371.34h2.64v2.64h-2.64zM196.68 373.93h2.64v2.64h-2.64zM201.85 373.93h2.64v2.64h-2.64zM209.60 373.93h2.64v2.64h-2.64zM217.34 373.93h5.23v2.64h-5.23zM227.68 373.93h2.64v2.64h-2.64zM235.42 373.93h5.23v2.64h-5.23zM243.17 373.93h7.81v2.64h-7.81zM256.09 373.93h10.39v2.64h-10.39zM194.10 376.51h7.81v2.64h-7.81zM204.43 376.51h2.64v2.64h-2.64zM214.76 376.51h2.64v2.64h-2.64zM227.68 376.51h2.64v2.64h-2.64zM232.84 376.51h5.23v2.64h-5.23zM243.17 376.51h2.64v2.64h-2.64zM261.25 376.51h5.23v2.64h-5.23zM196.68 379.09h2.64v2.64h-2.64zM204.43 379.09h2.64v2.64h-2.64zM209.60 379.09h7.81v2.64h-7.81zM222.51 379.09h2.64v2.64h-2.64zM235.42 379.09h5.23v2.64h-5.23zM248.34 379.09h7.81v2.64h-7.81zM258.67 379.09h2.64v2.64h-2.64zM263.83 379.09h5.23v2.64h-5.23zM194.10 381.68h7.81v2.64h-7.81zM204.43 381.68h5.23v2.64h-5.23zM217.34 381.68h10.39v2.64h-10.39zM243.17 381.68h7.81v2.64h-7.81zM194.10 384.26h5.23v2.64h-5.23zM201.85 384.26h5.23v2.64h-5.23zM209.60 384.26h2.64v2.64h-2.64zM222.51 384.26h2.64v2.64h-2.64zM230.26 384.26h2.64v2.64h-2.64zM235.42 384.26h7.81v2.64h-7.81zM248.34 384.26h2.64v2.64h-2.64zM253.50 384.26h2.64v2.64h-2.64zM258.67 384.26h10.39v2.64h-10.39zM194.10 386.84h2.64v2.64h-2.64zM201.85 386.84h5.23v2.64h-5.23zM212.18 386.84h2.64v2.64h-2.64zM217.34 386.84h2.64v2.64h-2.64zM227.68 386.84h12.97v2.64h-12.97zM245.76 386.84h10.39v2.64h-10.39zM258.67 386.84h2.64v2.64h-2.64zM263.83 386.84h2.64v2.64h-2.64zM194.10 389.42h10.39v2.64h-10.39zM209.60 389.42h12.97v2.64h-12.97zM225.09 389.42h2.64v2.64h-2.64zM230.26 389.42h2.64v2.64h-2.64zM238.01 389.42h2.64v2.64h-2.64zM245.76 389.42h2.64v2.64h-2.64zM253.50 389.42h2.64v2.64h-2.64zM263.83 389.42h2.64v2.64h-2.64zM196.68 392.01h2.64v2.64h-2.64zM207.01 392.01h2.64v2.64h-2.64zM212.18 392.01h7.81v2.64h-7.81zM225.09 392.01h2.64v2.64h-2.64zM230.26 392.01h2.64v2.64h-2.64zM235.42 392.01h2.64v2.64h-2.64zM240.59 392.01h2.64v2.64h-2.64zM245.76 392.01h10.39v2.64h-10.39zM258.67 392.01h2.64v2.64h-2.64zM266.42 392.01h2.64v2.64h-2.64zM194.10 394.59h2.64v2.64h-2.64zM204.43 394.59h7.81v2.64h-7.81zM217.34 394.59h2.64v2.64h-2.64zM225.09 394.59h2.64v2.64h-2.64zM248.34 394.59h2.64v2.64h-2.64zM253.50 394.59h5.23v2.64h-5.23zM263.83 394.59h5.23v2.64h-5.23zM199.27 397.17h10.39v2.64h-10.39zM217.34 397.17h2.64v2.64h-2.64zM225.09 397.17h2.64v2.64h-2.64zM230.26 397.17h2.64v2.64h-2.64zM238.01 397.17h2.64v2.64h-2.64zM245.76 397.17h5.23v2.64h-5.23zM253.50 397.17h2.64v2.64h-2.64zM263.83 397.17h5.23v2.64h-5.23zM194.10 399.76h2.64v2.64h-2.64zM199.27 399.76h2.64v2.64h-2.64zM204.43 399.76h2.64v2.64h-2.64zM209.60 399.76h7.81v2.64h-7.81zM219.93 399.76h2.64v2.64h-2.64zM225.09 399.76h5.23v2.64h-5.23zM232.84 399.76h5.23v2.64h-5.23zM243.17 399.76h15.56v2.64h-15.56zM261.25 399.76h2.64v2.64h-2.64zM214.76 402.34h2.64v2.64h-2.64zM227.68 402.34h5.23v2.64h-5.23zM235.42 402.34h2.64v2.64h-2.64zM243.17 402.34h5.23v2.64h-5.23zM256.09 402.34h2.64v2.64h-2.64zM261.25 402.34h7.81v2.64h-7.81zM194.10 404.92h18.14v2.64h-18.14zM217.34 404.92h2.64v2.64h-2.64zM225.09 404.92h5.23v2.64h-5.23zM235.42 404.92h2.64v2.64h-2.64zM245.76 404.92h2.64v2.64h-2.64zM250.92 404.92h2.64v2.64h-2.64zM256.09 404.92h2.64v2.64h-2.64zM263.83 404.92h2.64v2.64h-2.64zM194.10 407.50h2.64v2.64h-2.64zM209.60 407.50h2.64v2.64h-2.64zM214.76 407.50h2.64v2.64h-2.64zM222.51 407.50h2.64v2.64h-2.64zM227.68 407.50h5.23v2.64h-5.23zM240.59 407.50h2.64v2.64h-2.64zM245.76 407.50h2.64v2.64h-2.64zM256.09 407.50h12.97v2.64h-12.97zM194.10 410.09h2.64v2.64h-2.64zM199.27 410.09h7.81v2.64h-7.81zM209.60 410.09h2.64v2.64h-2.64zM219.93 410.09h2.64v2.64h-2.64zM225.09 410.09h2.64v2.64h-2.64zM230.26 410.09h2.64v2.64h-2.64zM235.42 410.09h5.23v2.64h-5.23zM245.76 410.09h12.97v2.64h-12.97zM194.10 412.67h2.64v2.64h-2.64zM199.27 412.67h7.81v2.64h-7.81zM209.60 412.67h2.64v2.64h-2.64zM214.76 412.67h2.64v2.64h-2.64zM219.93 412.67h2.64v2.64h-2.64zM225.09 412.67h2.64v2.64h-2.64zM243.17 412.67h5.23v2.64h-5.23zM250.92 412.67h15.56v2.64h-15.56zM194.10 415.25h2.64v2.64h-2.64zM199.27 415.25h7.81v2.64h-7.81zM209.60 415.25h2.64v2.64h-2.64zM219.93 415.25h10.39v2.64h-10.39zM238.01 415.25h2.64v2.64h-2.64zM243.17 415.25h5.23v2.64h-5.23zM256.09 415.25h7.81v2.64h-7.81zM266.42 415.25h2.64v2.64h-2.64zM194.10 417.83h2.64v2.64h-2.64zM209.60 417.83h2.64v2.64h-2.64zM225.09 417.83h2.64v2.64h-2.64zM230.26 417.83h2.64v2.64h-2.64zM235.42 417.83h5.23v2.64h-5.23zM243.17 417.83h7.81v2.64h-7.81zM256.09 417.83h2.64v2.64h-2.64zM263.83 417.83h2.64v2.64h-2.64zM194.10 420.42h18.14v2.64h-18.14zM214.76 420.42h2.64v2.64h-2.64zM222.51 420.42h2.64v2.64h-2.64zM230.26 420.42h12.97v2.64h-12.97zM245.76 420.42h7.81v2.64h-7.81zM258.67 420.42h2.64v2.64h-2.64zM263.83 420.42h2.64v2.64h-2.64z" fill="#0a0a0a"/>
</svg>
</body></html>
